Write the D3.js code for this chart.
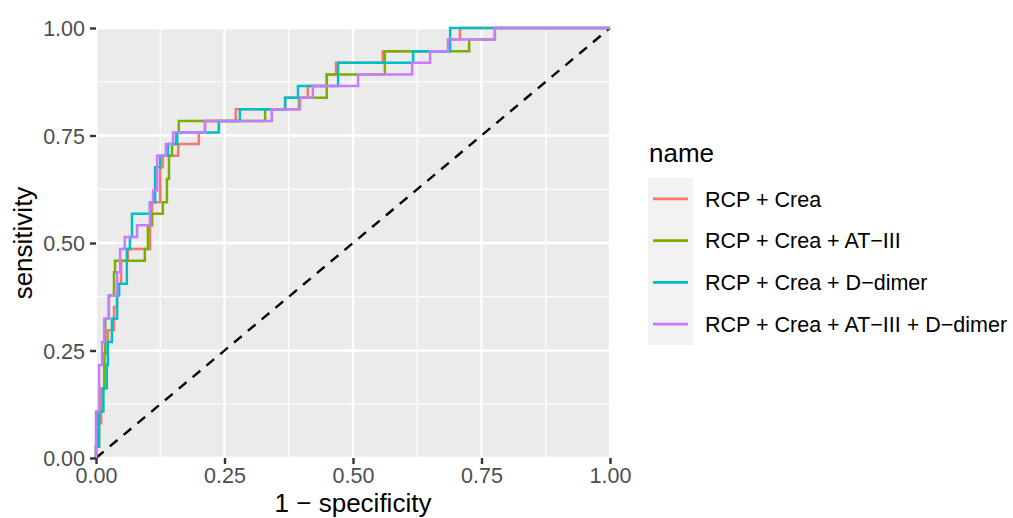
<!DOCTYPE html>
<html>
<head>
<meta charset="utf-8">
<script src="https://cdn.jsdelivr.net/npm/d3@7/dist/d3.min.js"></script>
<style>
  html, body { margin: 0; padding: 0; background: #ffffff; }
  svg { display: block; font-family: "Liberation Sans", Arial, Helvetica, sans-serif; }
</style>
</head>
<body>
<svg id="chart" width="1013" height="518"></svg>
<script>
// ---- data ----
const seriesNames = ["RCP + Crea", "RCP + Crea + AT\u2212III", "RCP + Crea + D\u2212dimer", "RCP + Crea + AT\u2212III + D\u2212dimer"];
const seriesColors = ["#F8766D", "#7CAE00", "#00BFC4", "#C77CFF"];

const fprCrea = [0, 0, .006, .010, .016, .023, .035, .041, .049, .062, .105, .109, .125, .130, .160, .200, .212, .272, .368, .412, .449, .467, .558, .685, .708, 1];
const tprCrea = [0, .027, .081, .162, .243, .297, .351, .405, .459, .486, .541, .595, .676, .703, .730, .757, .784, .811, .838, .865, .892, .919, .946, .973, 1, 1];

const fprAT = [0, 0, .004, .014, .016, .018, .025, .035, .037, .095, .101, .109, .130, .138, .142, .148, .156, .161, .329, .395, .449, .562, .726, .776, 1];
const tprAT = [0, .027, .108, .162, .243, .324, .378, .432, .459, .486, .541, .568, .595, .649, .703, .730, .757, .784, .811, .838, .892, .946, .973, 1, 1];

const fprDD = [0, 0, .006, .014, .021, .023, .031, .041, .045, .060, .066, .070, .105, .115, .125, .140, .158, .239, .280, .368, .393, .471, .617, .689, 1];
const tprDD = [0, .027, .108, .162, .216, .270, .324, .378, .405, .486, .514, .568, .595, .676, .703, .730, .757, .784, .811, .838, .865, .919, .946, 1, 1];

const fprAll = [0, 0, .006, .012, .016, .025, .041, .047, .056, .080, .105, .111, .119, .136, .150, .212, .342, .397, .422, .510, .615, .650, .685, .776, 1];
const tprAll = [0, .108, .216, .270, .324, .378, .432, .486, .514, .541, .595, .622, .703, .730, .757, .784, .811, .838, .865, .892, .919, .946, .973, 1, 1];

const tickValues = [0, 0.25, 0.5, 0.75, 1];
const tickLabels = ["0.00", "0.25", "0.50", "0.75", "1.00"];
const minorValues = [0.125, 0.375, 0.625, 0.875];
const xTitle = "1 \u2212 specificity";
const yTitle = "sensitivity";
const legendTitle = "name";

const series = [
  { name: seriesNames[0], color: seriesColors[0], fpr: fprCrea, tpr: tprCrea },
  { name: seriesNames[1], color: seriesColors[1], fpr: fprAT, tpr: tprAT },
  { name: seriesNames[2], color: seriesColors[2], fpr: fprDD, tpr: tprDD },
  { name: seriesNames[3], color: seriesColors[3], fpr: fprAll, tpr: tprAll }
];

// ---- layout ----
const panel = { left: 96, right: 610, top: 28, bottom: 458 };
const svg = d3.select("#chart");

const x = d3.scaleLinear().domain([0, 1]).range([panel.left, panel.right]);
const y = d3.scaleLinear().domain([0, 1]).range([panel.bottom, panel.top]);

// panel background
svg.append("rect")
  .attr("x", panel.left).attr("y", panel.top)
  .attr("width", panel.right - panel.left).attr("height", panel.bottom - panel.top)
  .attr("fill", "#EBEBEB");

const grid = svg.append("g");
// minor grid
grid.selectAll(".mx").data(minorValues).enter().append("line")
  .attr("x1", d => x(d)).attr("x2", d => x(d)).attr("y1", panel.top).attr("y2", panel.bottom)
  .attr("stroke", "#fff").attr("stroke-width", 1.2);
grid.selectAll(".my").data(minorValues).enter().append("line")
  .attr("y1", d => y(d)).attr("y2", d => y(d)).attr("x1", panel.left).attr("x2", panel.right)
  .attr("stroke", "#fff").attr("stroke-width", 1.2);
// major grid
grid.selectAll(".Mx").data(tickValues).enter().append("line")
  .attr("x1", d => x(d)).attr("x2", d => x(d)).attr("y1", panel.top).attr("y2", panel.bottom)
  .attr("stroke", "#fff").attr("stroke-width", 2.4);
grid.selectAll(".My").data(tickValues).enter().append("line")
  .attr("y1", d => y(d)).attr("y2", d => y(d)).attr("x1", panel.left).attr("x2", panel.right)
  .attr("stroke", "#fff").attr("stroke-width", 2.4);

// diagonal reference
svg.append("line")
  .attr("x1", x(0)).attr("y1", y(0)).attr("x2", x(1)).attr("y2", y(1))
  .attr("stroke", "#000").attr("stroke-width", 2.4).attr("stroke-dasharray", "10,8");

// curves
const line = d3.line()
  .x(d => x(d[0])).y(d => y(d[1]))
  .curve(d3.curveStepAfter);

series.forEach(s => {
  const pts = s.fpr.map((f, i) => [f, s.tpr[i]]);
  svg.append("path")
    .attr("d", line(pts))
    .attr("fill", "none")
    .attr("stroke", s.color)
    .attr("stroke-width", 2.5)
    .attr("stroke-linejoin", "miter");
});

// axes
const fmt = (d) => tickLabels[tickValues.indexOf(d)];
const xAxis = d3.axisBottom(x).tickValues(tickValues).tickFormat(fmt).tickSizeOuter(0).tickSize(6).tickPadding(4);
const yAxis = d3.axisLeft(y).tickValues(tickValues).tickFormat(fmt).tickSizeOuter(0).tickSize(6).tickPadding(5);

const gx = svg.append("g").attr("transform", `translate(0,${panel.bottom})`).call(xAxis);
const gy = svg.append("g").attr("transform", `translate(${panel.left},0)`).call(yAxis);
[gx, gy].forEach(g => {
  g.select(".domain").remove();
  g.selectAll(".tick line").attr("stroke", "#333333").attr("stroke-width", 2.4);
  g.selectAll(".tick text").attr("fill", "#4D4D4D").style("font-size", "21.5px")
    .style("font-family", '"Liberation Sans", Arial, sans-serif');
});
gx.selectAll(".tick text").attr("dy", "0.72em");
gy.selectAll(".tick text").attr("dy", "0.35em");

// axis titles
svg.append("text")
  .attr("x", (panel.left + panel.right) / 2).attr("y", 512)
  .attr("text-anchor", "middle").style("font-size", "26px").attr("fill", "#000")
  .text(xTitle);
svg.append("text")
  .attr("transform", `translate(32,${(panel.top + panel.bottom) / 2}) rotate(-90)`)
  .attr("text-anchor", "middle").style("font-size", "26px").attr("fill", "#000")
  .text(yTitle);

// legend
const lg = svg.append("g");
lg.append("text").attr("x", 649).attr("y", 162).style("font-size", "26px").attr("fill", "#000").text(legendTitle);
lg.append("rect").attr("x", 648).attr("y", 178).attr("width", 45).attr("height", 167).attr("fill", "#F2F2F2");
const rowY = d3.scaleBand().domain(seriesNames).range([178, 345]);
series.forEach(s => {
  const cy = rowY(s.name) + rowY.bandwidth() / 2;
  lg.append("line").attr("x1", 653).attr("x2", 688).attr("y1", cy).attr("y2", cy)
    .attr("stroke", s.color).attr("stroke-width", 2.6);
  lg.append("text").attr("x", 705).attr("y", cy).attr("dy", "0.36em")
    .style("font-size", "21.5px").attr("fill", "#000").text(s.name);
});
</script>
</body>
</html>
